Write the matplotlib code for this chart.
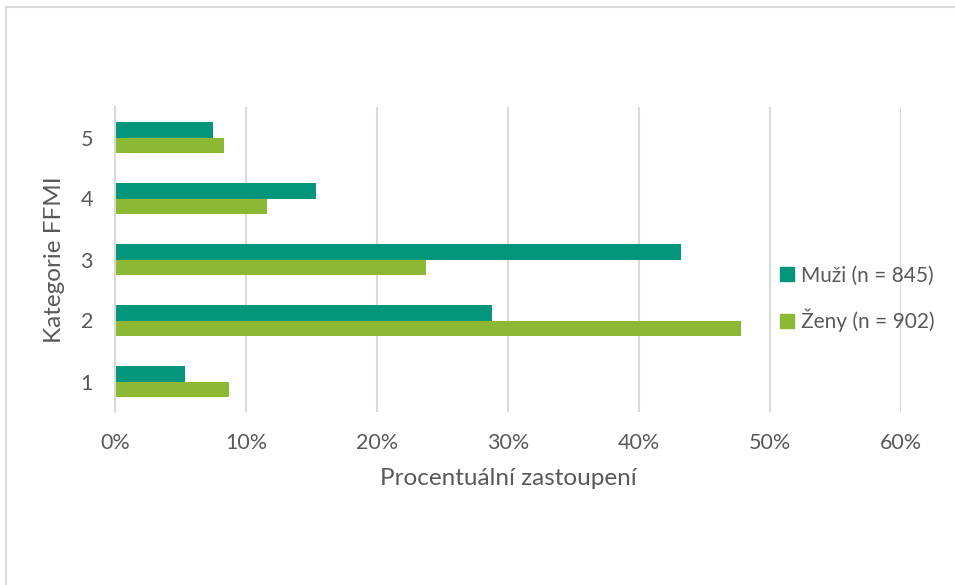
import matplotlib
matplotlib.use("Agg")
import matplotlib.pyplot as plt
from matplotlib.lines import Line2D
import numpy as np

categories = ["1", "2", "3", "4", "5"]
muzi = [5.35, 28.8, 43.2, 15.3, 7.45]
zeny = [8.65, 47.75, 23.75, 11.55, 8.3]
series_labels = ["Muži (n = 845)", "Ženy (n = 902)"]
xticks = [0, 10, 20, 30, 40, 50, 60]
xtick_labels = ["0%", "10%", "20%", "30%", "40%", "50%", "60%"]

plt.rcParams['font.family'] = ['Lato', 'DejaVu Sans']
txt = '#595959'
c_m = '#03967A'
c_z = '#8CB833'
grid = '#D9D9D9'

fig = plt.figure(figsize=(9.55, 5.85), dpi=100)
ax = fig.add_axes([115.3/955, 1-412/585, (901-115.3)/955, 305/585])

y = np.arange(len(categories))
h = 0.262
ax.barh(y + h/2, muzi, height=h, color=c_m, label=series_labels[0], zorder=3)
ax.barh(y - h/2, zeny, height=h, color=c_z, label=series_labels[1], zorder=3)

ax.set_xlim(0, 60)
ax.set_ylim(-0.5, 4.5)
ax.set_xticks(xticks)
ax.set_xticklabels(xtick_labels)
ax.set_yticks(y)
ax.set_yticklabels(categories)
ax.tick_params(axis='both', length=0, labelsize=15.5, labelcolor=txt)
ax.tick_params(axis='x', pad=15)
ax.tick_params(axis='y', pad=16)
ax.grid(axis='x', color=grid, linewidth=1.5, zorder=0)
for s in ['top', 'right', 'bottom']:
    ax.spines[s].set_visible(False)
ax.spines['left'].set_color(grid)
ax.spines['left'].set_linewidth(1.5)
ax.spines['left'].set_zorder(4)

ax.set_xlabel("Procentuální zastoupení", fontsize=17.5, color=txt, labelpad=11)
ax.set_ylabel("Kategorie FFMI", fontsize=17.5, color=txt, labelpad=11)

handles = [plt.Rectangle((0, 0), 1, 1, color=c_m), plt.Rectangle((0, 0), 1, 1, color=c_z)]
fig.legend(handles, series_labels, loc='center left', bbox_to_anchor=(780/955, 1-299/585),
           frameon=False, fontsize=15, labelcolor=txt, handlelength=0.65, handleheight=0.65,
           handletextpad=0.35, labelspacing=1.12, borderpad=0, borderaxespad=0)

fig.add_artist(Line2D([6/955, 6/955], [0, 1-7/585], transform=fig.transFigure, color='#D9D9D9', lw=1.5))
fig.add_artist(Line2D([6/955, 1], [1-7/585, 1-7/585], transform=fig.transFigure, color='#D9D9D9', lw=1.5))

fig.savefig("out.png", dpi=100)
